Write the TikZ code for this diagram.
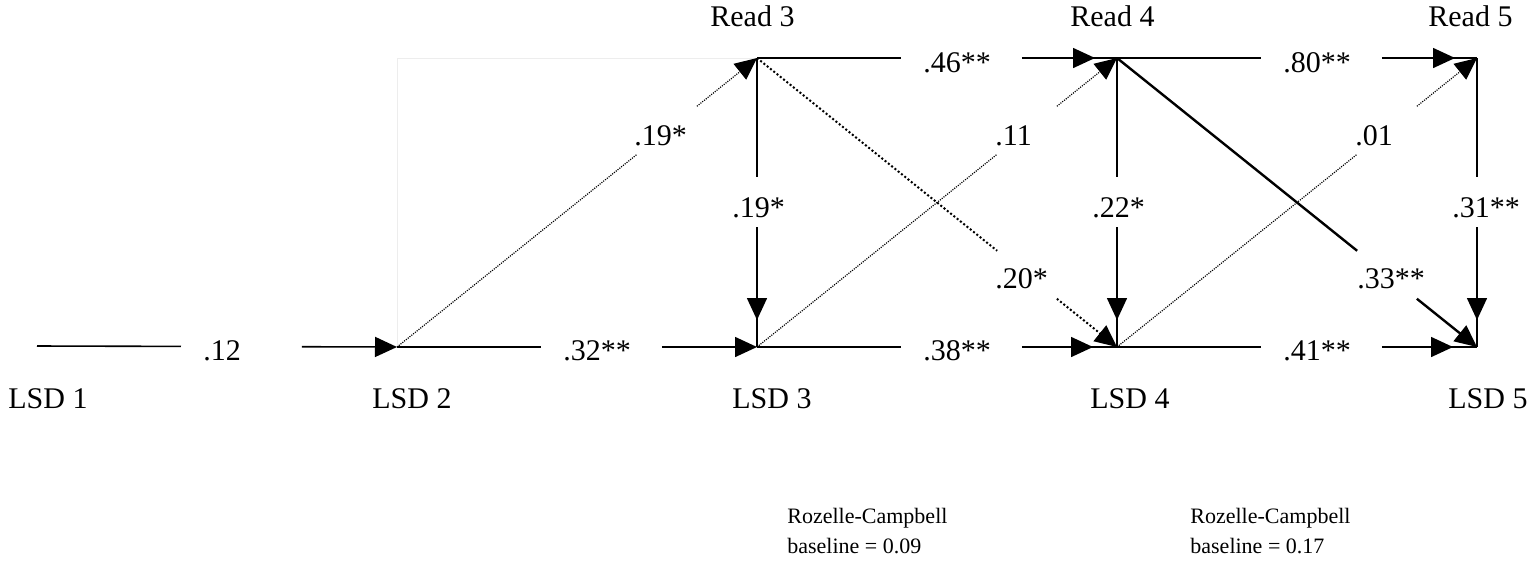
\documentclass[tikz,border=0pt]{standalone}
\usepackage{fontspec}
\setmainfont{Liberation Serif}
\usetikzlibrary{arrows.meta,decorations.markings}
\begin{document}
\begin{tikzpicture}[x=0.5pt,y=-0.5pt,
  solidln/.style={line width=0.8pt},
  boldln/.style={line width=1.2pt},
  fdot/.style={line width=0.6pt, dash pattern=on 0.55pt off 0.6pt},
  bdot/.style={line width=1pt, dash pattern=on 1pt off 1.1pt},
  faint/.style={line width=0.5pt, draw=black!7},
  endtip/.style={-{Triangle[length=11pt,width=10pt]}},
  tipback/.style={postaction={decorate}, decoration={markings, mark=at position #1 with {\arrow{Triangle[length=11pt,width=10pt]}}}},
  lab/.style={font=\fontsize{15}{18}\selectfont, inner sep=0pt, anchor=base west},
  note/.style={font=\fontsize{11}{15}\selectfont, inner sep=0pt, anchor=base west, align=left},
]
\useasboundingbox (0,0) rectangle (1528,564);

% anchor points
\coordinate (L1) at (37,346);
\coordinate (L2) at (397,347);
\coordinate (L3) at (757,347);
\coordinate (L4) at (1117,347);
\coordinate (L5) at (1477,347);
\coordinate (R3) at (757,58);
\coordinate (R4) at (1117,58);
\coordinate (R5) at (1477,58);
\coordinate (F) at (397,58);

% faint frame artefacts
\draw[faint] (L2) -- (F) -- (R3);

% names
\node[lab] (tL1) at (8,408) {LSD 1};
\node[lab] (tL2) at (372,408) {LSD 2};
\node[lab] (tL3) at (732,408) {LSD 3};
\node[lab] (tL4) at (1090,408) {LSD 4};
\node[lab] (tL5) at (1448,408) {LSD 5};
\node[lab] (tR3) at (710,26) {Read 3};
\node[lab] (tR4) at (1070,26) {Read 4};
\node[lab] (tR5) at (1428,26) {Read 5};

% horizontal paths, bottom row
\path (L1) -- coordinate[pos=0.4] (h1a) coordinate[pos=0.736] (h1b) (L2);
\draw[solidln] (L1) -- (h1a);
\draw[solidln, endtip] (h1b) -- (L2);
\node[lab] (e12) at (203,360) {.12};

\path (L2) -- coordinate[pos=0.4] (h2a) coordinate[pos=0.736] (h2b) (L3);
\draw[solidln] (L2) -- (h2a);
\draw[solidln, endtip] (h2b) -- (L3);
\node[lab] (e23) at (563,360) {.32**};

\path (L3) -- coordinate[pos=0.4] (h3a) coordinate[pos=0.736] (h3b) (L4);
\draw[solidln] (L3) -- (h3a);
\draw[solidln, tipback=-12pt] (h3b) -- (L4);
\node[lab] (e34) at (923,360) {.38**};

\path (L4) -- coordinate[pos=0.4] (h4a) coordinate[pos=0.736] (h4b) (L5);
\draw[solidln] (L4) -- (h4a);
\draw[solidln, tipback=-12pt] (h4b) -- (L5);
\node[lab] (e45) at (1283,360) {.41**};

% horizontal paths, top row
\path (R3) -- coordinate[pos=0.4] (t3a) coordinate[pos=0.736] (t3b) (R4);
\draw[solidln] (R3) -- (t3a);
\draw[solidln, tipback=-11pt] (t3b) -- (R4);
\node[lab] (r34) at (923,72) {.46**};

\path (R4) -- coordinate[pos=0.4] (t4a) coordinate[pos=0.736] (t4b) (R5);
\draw[solidln] (R4) -- (t4a);
\draw[solidln, tipback=-11pt] (t4b) -- (R5);
\node[lab] (r45) at (1283,72) {.80**};

% vertical paths
\path (R3) -- coordinate[pos=0.412] (v3a) coordinate[pos=0.585] (v3b) (L3);
\draw[solidln] (R3) -- (v3a);
\draw[solidln, tipback=-13.5pt] (v3b) -- (L3);
\node[lab] (c3) at (732,217) {.19*};

\path (R4) -- coordinate[pos=0.412] (v4a) coordinate[pos=0.585] (v4b) (L4);
\draw[solidln] (R4) -- (v4a);
\draw[solidln, tipback=-13.5pt] (v4b) -- (L4);
\node[lab] (c4) at (1092,217) {.22*};

\path (R5) -- coordinate[pos=0.412] (v5a) coordinate[pos=0.585] (v5b) (L5);
\draw[solidln] (R5) -- (v5a);
\draw[solidln, tipback=-13.5pt] (v5b) -- (L5);
\node[lab] (c5) at (1452,217) {.31**};

% diagonal LSD -> Read (fine dotted)
\path (L2) -- coordinate[pos=0.667] (d2a) coordinate[pos=0.833] (d2b) (R3);
\draw[fdot] (L2) -- (d2a);
\draw[fdot, endtip] (d2b) -- (R3);
\node[lab] (x23) at (634,145) {.19*};

\path (L3) -- coordinate[pos=0.667] (d3a) coordinate[pos=0.833] (d3b) (R4);
\draw[fdot] (L3) -- (d3a);
\draw[fdot, endtip] (d3b) -- (R4);
\node[lab] (x34) at (995,145) {.11};

\path (L4) -- coordinate[pos=0.667] (d4a) coordinate[pos=0.833] (d4b) (R5);
\draw[fdot] (L4) -- (d4a);
\draw[fdot, endtip] (d4b) -- (R5);
\node[lab] (x45) at (1355,145) {.01};

% diagonal Read -> LSD
\path (R3) -- coordinate[pos=0.667] (u3a) coordinate[pos=0.833] (u3b) (L4);
\draw[bdot] (R3) -- (u3a);
\draw[bdot, endtip] (u3b) -- (L4);
\node[lab] (y34) at (995,288) {.20*};

\path (R4) -- coordinate[pos=0.667] (u4a) coordinate[pos=0.833] (u4b) (L5);
\draw[boldln] (R4) -- (u4a);
\draw[boldln, endtip] (u4b) -- (L5);
\node[lab] (y45) at (1357,288) {.33**};

% notes
\node[note] (n1) at (787,553) {Rozelle-Campbell\\baseline = 0.09};
\node[note] (n2) at (1190,553) {Rozelle-Campbell\\baseline = 0.17};
\end{tikzpicture}
\end{document}
